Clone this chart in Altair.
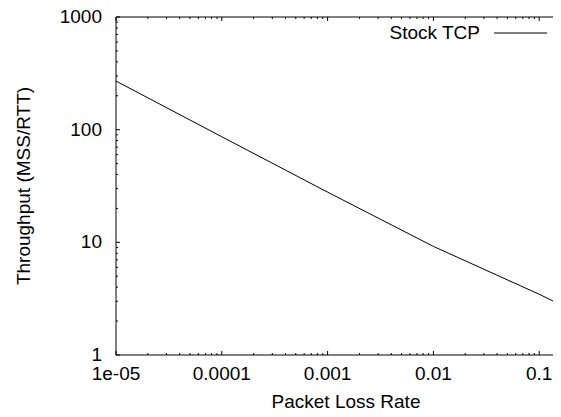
import altair as alt
import pandas as pd

# ---- data ----
loss_rate = [1e-05, 1e-04, 1e-03, 1e-02, 1e-01, 0.16]
throughput = [270, 86.5, 27.9, 9.2, 3.46, 2.79]
series_name = ["Stock TCP"]

x_decades = [1e-05, 1e-04, 1e-03, 1e-02, 1e-01]
x_labels = ["1e-05", "0.0001", "0.001", "0.01", "0.1"]
y_decades = [1, 10, 100, 1000]
y_labels = ["1", "10", "100", "1000"]
minor_mult = [2, 3, 4, 5, 6, 7, 8, 9]
x_title = ["Packet Loss Rate"]
y_title = ["Throughput (MSS/RTT)"]

X_DOMAIN = [1e-05, 0.135]
Y_DOMAIN = [1, 1000]
W, H = 437, 338
FONT = "Liberation Sans"
FS = 19

line_df = pd.DataFrame({"p": loss_rate, "tput": throughput})
x_minor = [m * d for d in x_decades for m in minor_mult if m * d <= X_DOMAIN[1]]
y_minor = [m * d for d in y_decades[:-1] for m in minor_mult]
xmaj_df = pd.DataFrame({"v": x_decades, "label": x_labels})
xmin_df = pd.DataFrame({"v": x_minor})
ymaj_df = pd.DataFrame({"v": y_decades, "label": y_labels})
ymin_df = pd.DataFrame({"v": y_minor})
one = pd.DataFrame({"name": series_name})
xt_df = pd.DataFrame({"t": x_title})
yt_df = pd.DataFrame({"t": y_title})

xs = alt.Scale(type="log", domain=X_DOMAIN, nice=False)
ys = alt.Scale(type="log", domain=Y_DOMAIN, nice=False)
XN = lambda f: alt.X(f, scale=xs, axis=None)
YN = lambda f: alt.Y(f, scale=ys, axis=None)

line = alt.Chart(line_df).mark_line(color="black", strokeWidth=1, clip=True).encode(
    x=XN("p:Q"), y=YN("tput:Q"),
)


def rule():
    return dict(color="black", strokeWidth=1)


def xticks(df, size):
    bottom = alt.Chart(df).mark_rule(**rule()).encode(
        x=XN("v:Q"), y=alt.value(H), y2=alt.value(H - size))
    top = alt.Chart(df).mark_rule(**rule()).encode(
        x=XN("v:Q"), y=alt.value(0), y2=alt.value(size))
    return [bottom, top]


def yticks(df, size):
    left = alt.Chart(df).mark_rule(**rule()).encode(
        y=YN("v:Q"), x=alt.value(0), x2=alt.value(size))
    return [left]


border = [
    alt.Chart(one).mark_rule(**rule()).encode(x=alt.value(0), x2=alt.value(W), y=alt.value(0)),
    alt.Chart(one).mark_rule(**rule()).encode(x=alt.value(0), x2=alt.value(W), y=alt.value(H)),
    alt.Chart(one).mark_rule(**rule()).encode(x=alt.value(0), y=alt.value(0), y2=alt.value(H)),
]

txt = dict(font=FONT, fontSize=FS, color="black")
x_lab = alt.Chart(xmaj_df).mark_text(align="center", baseline="middle", **txt).encode(
    x=XN("v:Q"), y=alt.value(H + 19), text="label:N")
y_lab = alt.Chart(ymaj_df).mark_text(align="right", baseline="middle", **txt).encode(
    y=YN("v:Q"), x=alt.value(-14), text="label:N")
x_tit = alt.Chart(xt_df).mark_text(align="center", baseline="alphabetic", **txt).encode(
    x=alt.value(230), y=alt.value(H + 53), text="t:N")
y_tit = alt.Chart(yt_df).mark_text(align="center", baseline="middle", angle=270, **txt).encode(
    x=alt.value(-92), y=alt.value(H / 2), text="t:N")

legend_text = alt.Chart(one).mark_text(align="right", baseline="middle", **txt).encode(
    text="name:N", x=alt.value(364), y=alt.value(16))
legend_line = alt.Chart(one).mark_rule(**rule()).encode(
    x=alt.value(378), x2=alt.value(431), y=alt.value(16))

layers = [line] + xticks(xmaj_df, 4) + xticks(xmin_df, 2) + yticks(ymaj_df, 4) + yticks(ymin_df, 2) \
    + border + [x_lab, y_lab, x_tit, y_tit, legend_text, legend_line]

chart = alt.layer(*layers).properties(
    width=W, height=H,
    autosize=alt.AutoSizeParams(type="none"),
    padding={"left": 108, "top": 9, "right": 0, "bottom": 54},
).configure(background="white").configure_view(stroke=None)

chart.save("out.html", embed_options={"renderer": "svg", "actions": False})
